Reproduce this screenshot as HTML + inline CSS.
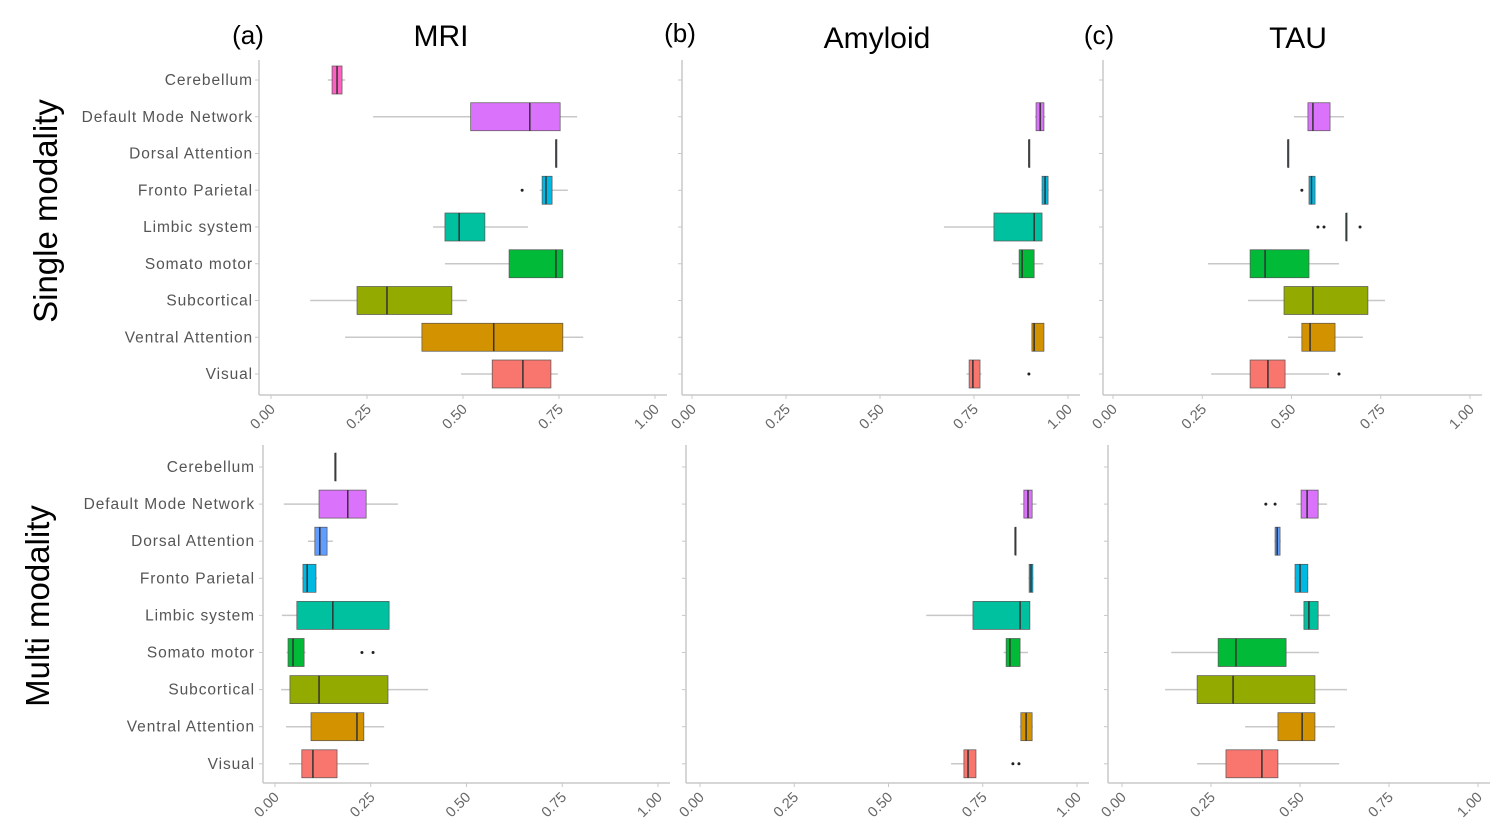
<!DOCTYPE html>
<html><head><meta charset="utf-8"><style>
body{margin:0;background:#fff;}
svg{display:block;font-family:"Liberation Sans",sans-serif;}
</style></head><body>
<svg id="chart" width="1500" height="822" viewBox="0 0 1500 822" xmlns="http://www.w3.org/2000/svg">
<text x="248" y="44" font-size="26" text-anchor="middle">(a)</text>
<text x="441" y="46" font-size="30" text-anchor="middle">MRI</text>
<text x="680" y="42" font-size="26" text-anchor="middle">(b)</text>
<text x="877" y="48" font-size="30" text-anchor="middle">Amyloid</text>
<text x="1099" y="44" font-size="26" text-anchor="middle">(c)</text>
<text x="1298" y="48" font-size="30" text-anchor="middle">TAU</text>
<text transform="translate(57,211) rotate(-90)" font-size="33" text-anchor="middle">Single modality</text>
<text transform="translate(49,606) rotate(-90)" font-size="33" text-anchor="middle">Multi modality</text>
</svg>
<script>
const categories=["Cerebellum","Default Mode Network","Dorsal Attention","Fronto Parietal","Limbic system","Somato motor","Subcortical","Ventral Attention","Visual"];
const colors=["#FF61C3","#DB72FB","#619CFF","#00B9E3","#00C19F","#00BA38","#93AA00","#D39200","#F8766D"];
const tickLabels=["0.00","0.25","0.50","0.75","1.00"];
const tickValues=[0,0.25,0.5,0.75,1];
// each stat: [whiskerLow, q1, median, q3, whiskerHigh] or null
const mriSingle=[[.148,.159,.172,.185,.193],[.266,.52,.674,.753,.797],[.742,.742,.742,.742,.742],[.70,.706,.716,.732,.773],[.422,.453,.49,.557,.669],[.453,.62,.742,.76,.76],[.102,.224,.302,.471,.51],[.193,.393,.58,.76,.813],[.495,.576,.656,.729,.747]];
const amySingle=[null,[.912,.915,.926,.936,.94],[.896,.896,.896,.896,.896],[.929,.931,.939,.947,.949],[.67,.803,.91,.931,.931],[.851,.87,.878,.91,.934],null,[.904,.904,.91,.936,.936],[.73,.737,.747,.766,.77]];
const tauSingle=[null,[.507,.546,.56,.608,.647],[.49,.49,.49,.49,.49],[.549,.549,.556,.566,.566],[.653,.653,.653,.653,.653],[.266,.384,.426,.549,.633],[.378,.479,.56,.714,.762],[.49,.529,.552,.622,.70],[.275,.384,.434,.482,.605]];
const mriMulti=[[.157,.157,.157,.157,.157],[.023,.115,.19,.238,.321],[.086,.104,.117,.136,.151],[.07,.073,.084,.107,.11],[.018,.057,.151,.298,.298],[.03,.034,.047,.076,.08],[.016,.039,.115,.295,.40],[.029,.094,.214,.232,.285],[.037,.07,.099,.162,.245]];
const amyMulti=[null,[.85,.859,.87,.881,.893],[.836,.836,.836,.836,.836],[.871,.873,.878,.883,.885],[.6,.724,.849,.875,.875],[.805,.812,.822,.849,.87],null,[.848,.851,.865,.881,.883],[.666,.7,.711,.732,.732]];
const tauMulti=[null,[.49,.503,.52,.551,.576],[.428,.43,.436,.444,.446],[.484,.486,.5,.522,.524],[.472,.511,.525,.551,.584],[.138,.27,.32,.461,.553],[.121,.211,.312,.542,.632],[.346,.438,.506,.542,.598],[.211,.292,.393,.438,.61]];
// outliers: [categoryIndex, value]
const mriSingleOut=[[3,.654]];
const amySingleOut=[[8,.896]];
const tauSingleOut=[[3,.529],[4,.574],[4,.591],[4,.692],[8,.633]];
const mriMultiOut=[[5,.227],[5,.256]];
const amyMultiOut=[[8,.83],[8,.846]];
const tauMultiOut=[[1,.404],[1,.43]];

const svg=document.getElementById('chart');
const NS="http://www.w3.org/2000/svg";
function mk(tag,at){const e=document.createElementNS(NS,tag);for(const k in at)e.setAttribute(k,at[k]);svg.appendChild(e);return e;}
const panels=[
 {name:'mri-single',x0:271,x1:655,axisX:259,top:60,base:395,row0:80,step:36.75,data:mriSingle,out:mriSingleOut,labels:true,labX:253},
 {name:'amyloid-single',x0:692,x1:1068,axisX:682,top:60,base:395,row0:80,step:36.75,data:amySingle,out:amySingleOut},
 {name:'tau-single',x0:1113,x1:1470,axisX:1103,top:60,base:395,row0:80,step:36.75,data:tauSingle,out:tauSingleOut},
 {name:'mri-multi',x0:275,x1:658,axisX:263,top:445,base:783,row0:467,step:37.1,data:mriMulti,out:mriMultiOut,labels:true,labX:255},
 {name:'amyloid-multi',x0:700,x1:1077,axisX:686,top:445,base:783,row0:467,step:37.1,data:amyMulti,out:amyMultiOut},
 {name:'tau-multi',x0:1122,x1:1478,axisX:1108,top:445,base:783,row0:467,step:37.1,data:tauMulti,out:tauMultiOut}
];
panels.forEach(p=>{
 const sx=v=>p.x0+v*(p.x1-p.x0);
 const sy=i=>p.row0+i*p.step;
 let e=mk('line',{x1:p.axisX,y1:p.top,x2:p.axisX,y2:p.base,stroke:'#c8c8c8','stroke-width':1.5});
 
 
 e=mk('line',{x1:p.axisX,y1:p.base,x2:p.x1+12,y2:p.base,stroke:'#c8c8c8','stroke-width':1.5});
 
 
 tickValues.forEach((v,k)=>{
  const x=sx(v);
  const t=mk('line',{x1:x,y1:p.base,x2:x,y2:p.base+4,stroke:'#c8c8c8'});
  
  
  const tx=mk('text',{x:x+5,y:p.base+15,'font-size':14.5,fill:'#666','text-anchor':'end',transform:`rotate(-45 ${x+5} ${p.base+15})`});
  tx.textContent=tickLabels[k];
  
  
 });
 categories.forEach((c,i)=>{
  const y=sy(i);
  if(p.labels){
   const t=mk('text',{x:p.labX,y:y+5,'font-size':15.5,fill:'#555','text-anchor':'end','letter-spacing':'0.9'});
   t.textContent=c;
   
   
  }
  const tk=mk('line',{x1:p.axisX-4,y1:y,x2:p.axisX,y2:y,stroke:'#c8c8c8'});
  
  
  const d=p.data[i]; if(!d) return;
  const g=document.createElementNS(NS,'g');svg.appendChild(g);
  
  
  const add=(tag,at)=>{const e=document.createElementNS(NS,tag);for(const k in at)e.setAttribute(k,at[k]);g.appendChild(e);return e;};
  add('line',{x1:sx(d[0]),y1:y,x2:sx(d[4]),y2:y,stroke:'#c8c8c8','stroke-width':1.5});
  const w=Math.max(sx(d[3])-sx(d[1]),1);
  add('rect',{x:sx(d[1]),y:y-14,width:w,height:28,fill:colors[i],stroke:'#555','stroke-width':0.7});
  add('line',{x1:sx(d[2]),y1:y-14,x2:sx(d[2]),y2:y+14,stroke:'#333','stroke-width':1.5});
 });
 p.out.forEach(o=>{
  const c=mk('circle',{cx:sx(o[1]),cy:sy(o[0]),r:1.5,fill:'#222'});
  
  
 });
});
</script>
</body></html>
